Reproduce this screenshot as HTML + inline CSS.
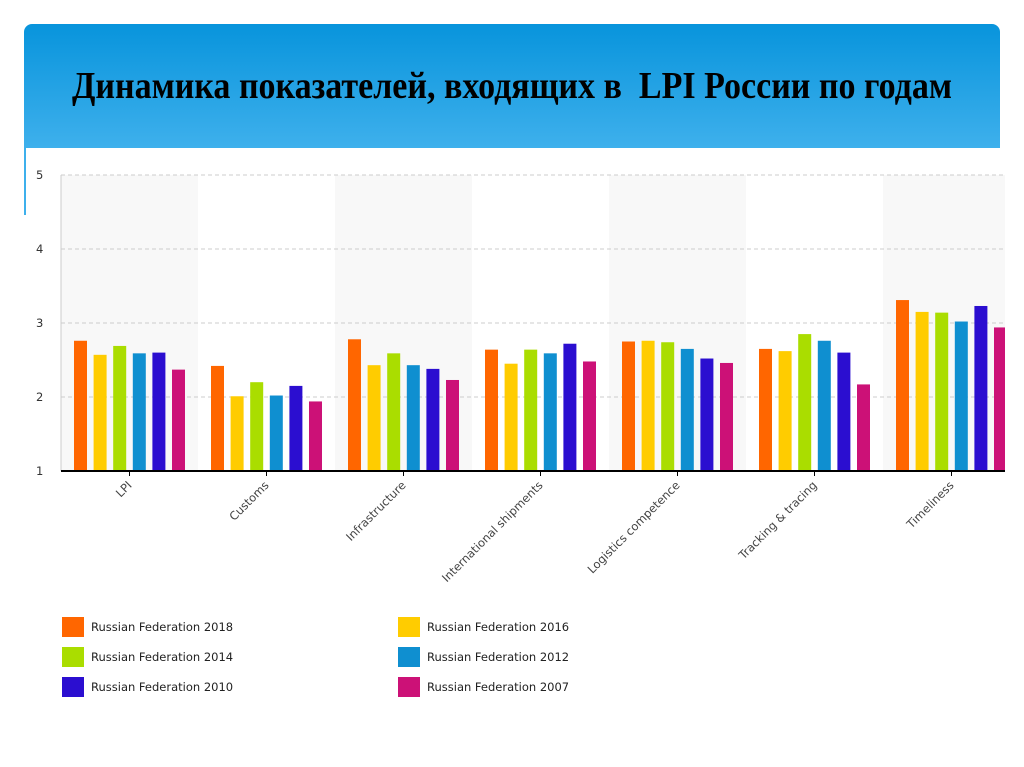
<!DOCTYPE html>
<html><head><meta charset="utf-8"><style>
body{margin:0;width:1024px;height:767px;background:#fff;overflow:hidden;position:relative;font-family:"DejaVu Sans","Liberation Sans",sans-serif}
#hdr{position:absolute;left:24px;top:24px;width:976px;height:124px;border-radius:8px 8px 0 0;background:linear-gradient(#0894dc,#3eb0ec)}
#title{position:absolute;left:0;width:1024px;top:64px;text-align:center;font:bold 38px "Liberation Serif",serif;color:#000;transform:scaleX(0.895);transform-origin:512px 0;white-space:nowrap}
#lline{position:absolute;left:24px;top:148px;width:2px;height:67px;background:#3eb0ec}
</style></head><body>
<div id="hdr"></div>
<div id="lline"></div>
<div id="title">Динамика показателей, входящих в&nbsp; LPI России по годам</div>
<svg id="chart" width="1024" height="767" style="position:absolute;left:0;top:0"></svg>
<script>
const categories=["LPI","Customs","Infrastructure","International shipments","Logistics competence","Tracking & tracing","Timeliness"];
const seriesNames=["Russian Federation 2018","Russian Federation 2016","Russian Federation 2014","Russian Federation 2012","Russian Federation 2010","Russian Federation 2007"];
const s2018=[2.76,2.42,2.78,2.64,2.75,2.65,3.31];
const s2016=[2.57,2.01,2.43,2.45,2.76,2.62,3.15];
const s2014=[2.69,2.20,2.59,2.64,2.74,2.85,3.14];
const s2012=[2.59,2.02,2.43,2.59,2.65,2.76,3.02];
const s2010=[2.60,2.15,2.38,2.72,2.52,2.60,3.23];
const s2007=[2.37,1.94,2.23,2.48,2.46,2.17,2.94];
const yTicks=[1,2,3,4,5];
const series=[s2018,s2016,s2014,s2012,s2010,s2007];
const colors=["#ff6600","#ffcc00","#aadd00","#0f8fd0","#2b0ed0","#cc1177"];
const NS="http://www.w3.org/2000/svg",svg=document.getElementById('chart');
function mk(t,a,p){const e=document.createElementNS(NS,t);for(const k in a)e.setAttribute(k,a[k]);(p||svg).appendChild(e);return e;}
const x0=61,xEnd=1005,gw=137;
const y=v=>471-(v-1)*74;
const gx=i=>x0+i*gw;
const defs=mk('defs',{});const cp=mk('clipPath',{id:'c'},defs);mk('rect',{x:x0,y:150,width:xEnd-x0,height:330},cp);
const g=mk('g',{'clip-path':'url(#c)'});
categories.forEach((c,i)=>{if(i%2==0){const r=mk('rect',{x:gx(i),y:y(5),width:gw,height:y(1)-y(5),fill:'#f8f8f8'},g);

}});
yTicks.forEach(t=>{if(t>1){const l=mk('line',{x1:x0,x2:xEnd,y1:y(t),y2:y(t),stroke:'#ccc','stroke-dasharray':'4,3'},g);

}
const tx=mk('text',{x:36,y:y(t)+4,'font-size':11.5,fill:'#333'});tx.textContent=t;

});
series.forEach((s,k)=>s.forEach((v,i)=>{const b=mk('rect',{x:gx(i)+13+k*19.6,y:y(v),width:13,height:y(1)-y(v),fill:colors[k]},g);

}));
mk('line',{x1:x0,x2:x0,y1:y(5),y2:y(1),stroke:'#ccc'});
const ax=mk('line',{x1:x0,x2:xEnd,y1:y(1),y2:y(1),stroke:'#000','stroke-width':2});


categories.forEach((c,i)=>{const cx=gx(i)+gw/2;mk('line',{x1:cx,x2:cx,y1:y(1),y2:y(1)+5,stroke:'#000'});
const t=mk('text',{x:cx+3,y:y(1)+15,'font-size':11.5,fill:'#444','text-anchor':'end',transform:`rotate(-45 ${cx+3} ${y(1)+15})`});t.textContent=c;

});
seriesNames.forEach((n,k)=>{const lx=k%2?398:62,ly=617+Math.floor(k/2)*30;
const sw=mk('rect',{x:lx,y:ly,width:22,height:20,fill:colors[k]});


const t=mk('text',{x:lx+29,y:ly+14,'font-size':11.5,fill:'#222'});t.textContent=n;

});
</script>
</body></html>
